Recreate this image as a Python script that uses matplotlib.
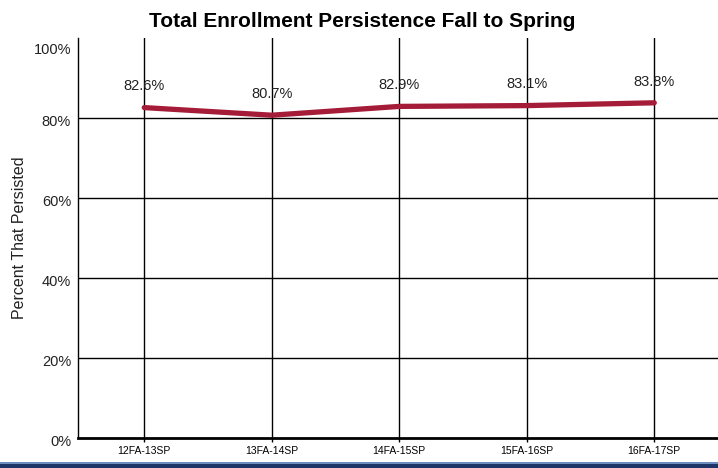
import matplotlib.pyplot as plt
from matplotlib.patches import Rectangle
from matplotlib.transforms import ScaledTranslation

plt.rcParams['font.family'] = ['Liberation Sans', 'DejaVu Sans']

terms = ["12FA-13SP", "13FA-14SP", "14FA-15SP", "15FA-16SP", "16FA-17SP"]
persisted = [82.6, 80.7, 82.9, 83.1, 83.8]
yticks = [0, 20, 40, 60, 80, 100]

fig = plt.figure(figsize=(7.18, 4.68), dpi=100)
ax = fig.add_axes([0.1086, 0.0641, 0.8914, 0.8547])

x = list(range(len(terms)))
ax.plot(x, persisted, color='#a51c38', linewidth=3.8, solid_capstyle='round', zorder=3)
for xi, v in zip(x, persisted):
    ax.text(xi, v + 5.3, f"{v:.1f}%", ha='center', va='center', fontsize=10.5, color='#222222')

ax.set_xlim(-0.52, 4.5)
ax.set_ylim(0, 100)
ax.set_xticks(x)
ax.set_xticklabels(terms, fontsize=7.5)
ax.set_yticks(yticks)
ax.set_yticklabels([f"{t}%" for t in yticks], fontsize=10.5, color='#222222')
ax.tick_params(axis='y', length=0, pad=5)
ax.tick_params(axis='x', length=3, width=1, pad=3)

# nudge tick labels slightly down like the original
for lbl in ax.get_yticklabels():
    lbl.set_transform(lbl.get_transform() + ScaledTranslation(0, -2 / 100, fig.dpi_scale_trans))
ax.get_yticklabels()[-1].set_transform(
    ax.get_yticklabels()[-1].get_transform() + ScaledTranslation(0, -8 / 100, fig.dpi_scale_trans))

for t in yticks[1:-1]:
    ax.axhline(t, color='black', linewidth=1.0, zorder=1)
for xi in x:
    ax.axvline(xi, color='black', linewidth=1.0, zorder=1)

ax.spines['top'].set_visible(False)
ax.spines['right'].set_visible(False)
ax.spines['left'].set_linewidth(1.0)
ax.spines['bottom'].set_linewidth(2.0)

ax.set_ylabel("Percent That Persisted", fontsize=11.5, labelpad=5, color='#222222')
fig.suptitle("Total Enrollment Persistence Fall to Spring", x=0.505, y=0.975,
             fontsize=15, fontweight='bold')

# bottom band
fig.patches.append(Rectangle((0, 0), 1, 0.012, transform=fig.transFigure,
                             facecolor='#1d3566', edgecolor='none'))
fig.patches.append(Rectangle((0, 0.009), 1, 0.004, transform=fig.transFigure,
                             facecolor='#6d8fbf', edgecolor='none'))

fig.savefig("out.png", dpi=100)
